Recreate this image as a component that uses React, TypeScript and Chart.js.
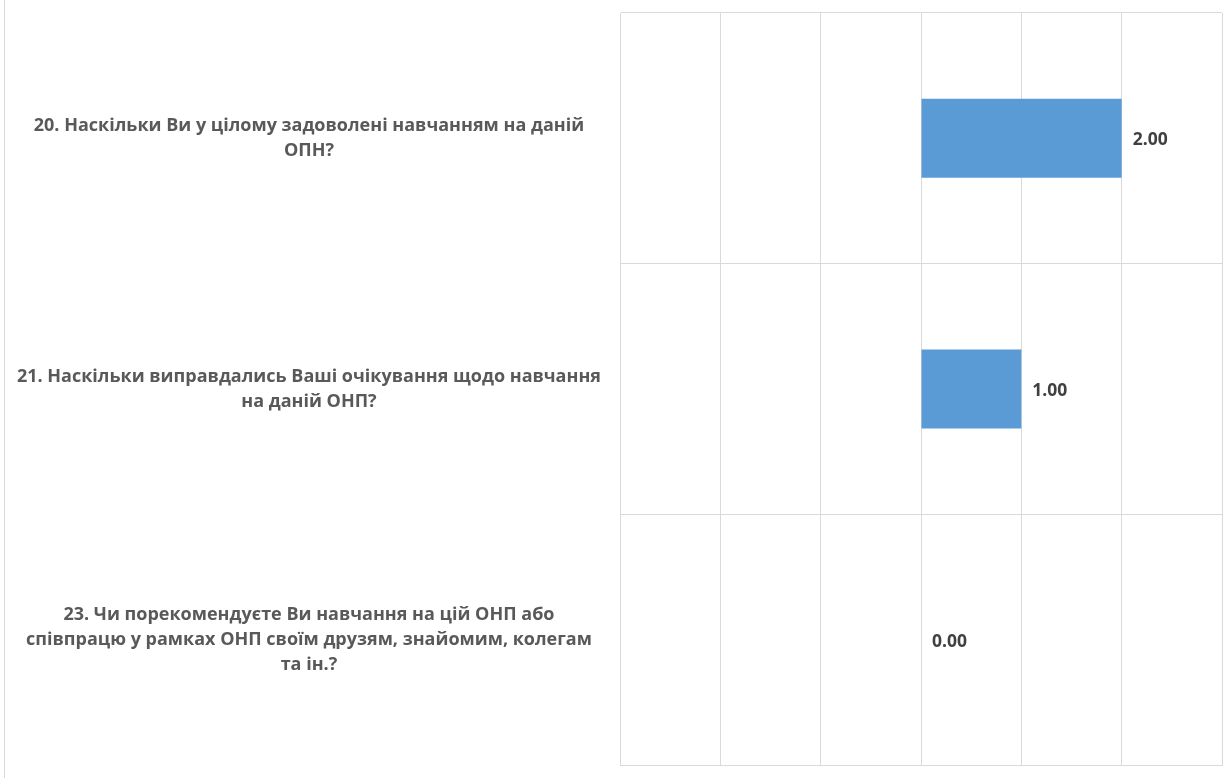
import React, { useEffect, useRef } from "react";
import { Chart, registerables } from "chart.js";

Chart.register(...registerables);

const categories: string[][] = [
  ["20. Наскільки Ви у цілому задоволені навчанням на даній", "ОПН?"],
  ["21. Наскільки виправдались Ваші очікування щодо навчання", "на даній ОНП?"],
  ["23. Чи порекомендуєте Ви навчання на цій ОНП або", "співпрацю у рамках ОНП своїм друзям, знайомим, колегам", "та ін.?"],
];
const values: number[] = [2, 1, 0];
const xMin = -3;
const xMax = 3;

const FONT = "'Open Sans', sans-serif";

const valueLabels = {
  id: "valueLabels",
  afterDatasetsDraw(chart: any) {
    const ctx = chart.ctx;
    const meta = chart.getDatasetMeta(0);
    ctx.save();
    ctx.font = `bold 17.5px ${FONT}`;
    ctx.fillStyle = "#404040";
    ctx.textAlign = "left";
    ctx.textBaseline = "middle";
    meta.data.forEach((bar: any, i: number) => {
      const v = chart.data.datasets[0].data[i] as number;
      ctx.fillText(v.toFixed(2), bar.x + 11, bar.y + 2);
    });
    ctx.restore();
  },
};

const frameLine = {
  id: "frameLine",
  beforeDraw(chart: any) {
    const ctx = chart.ctx;
    ctx.save();
    ctx.strokeStyle = "#d9d9d9";
    ctx.lineWidth = 1;
    ctx.beginPath();
    ctx.moveTo(4.5, 0);
    ctx.lineTo(4.5, chart.height);
    ctx.stroke();
    ctx.restore();
  },
};

export default function App() {
  const ref = useRef<HTMLCanvasElement | null>(null);
  useEffect(() => {
    if (!ref.current) return;
    const chart = new Chart(ref.current, {
      type: "bar",
      data: {
        labels: categories,
        datasets: [
          {
            data: values,
            backgroundColor: "#5B9BD5",
            borderColor: "#5B9BD5",
            borderWidth: 0,
            categoryPercentage: 1,
            barPercentage: 0.315,
          },
        ],
      },
      options: {
        indexAxis: "y",
        animation: false,
        responsive: false,
        maintainAspectRatio: false,
        layout: { padding: { top: 13, bottom: 13, right: 5, left: 0 } },
        plugins: { legend: { display: false }, tooltip: { enabled: false } },
        scales: {
          x: {
            min: xMin,
            max: xMax,
            ticks: { display: false, stepSize: 1 },
            grid: { color: "#d9d9d9", drawTicks: false },
            border: { display: true, color: "#d9d9d9" },
            afterFit(scale: any) {
              scale.height = 0;
              scale.paddingLeft = 0;
              scale.paddingRight = 0;
            },
          },
          y: {
            grid: { color: "#d9d9d9", drawTicks: false, offset: true },
            border: { display: true, color: "#d9d9d9" },
            afterFit(scale: any) {
              scale.width = 620;
              scale.paddingTop = 0;
              scale.paddingBottom = 0;
            },
            ticks: {
              color: "#595959",
              crossAlign: "center",
              padding: 19,
              font: { family: FONT, size: 18, weight: "bold", lineHeight: 1.39 },
            },
          },
        },
      },
      plugins: [frameLine, valueLabels],
    });
    return () => chart.destroy();
  }, []);
  return (
    <div style={{ position: "fixed", left: 0, top: 0, width: 1227, height: 778, background: "#fff" }}>
      <canvas ref={ref} width={1227} height={778} style={{ display: "block" }} />
    </div>
  );
}
